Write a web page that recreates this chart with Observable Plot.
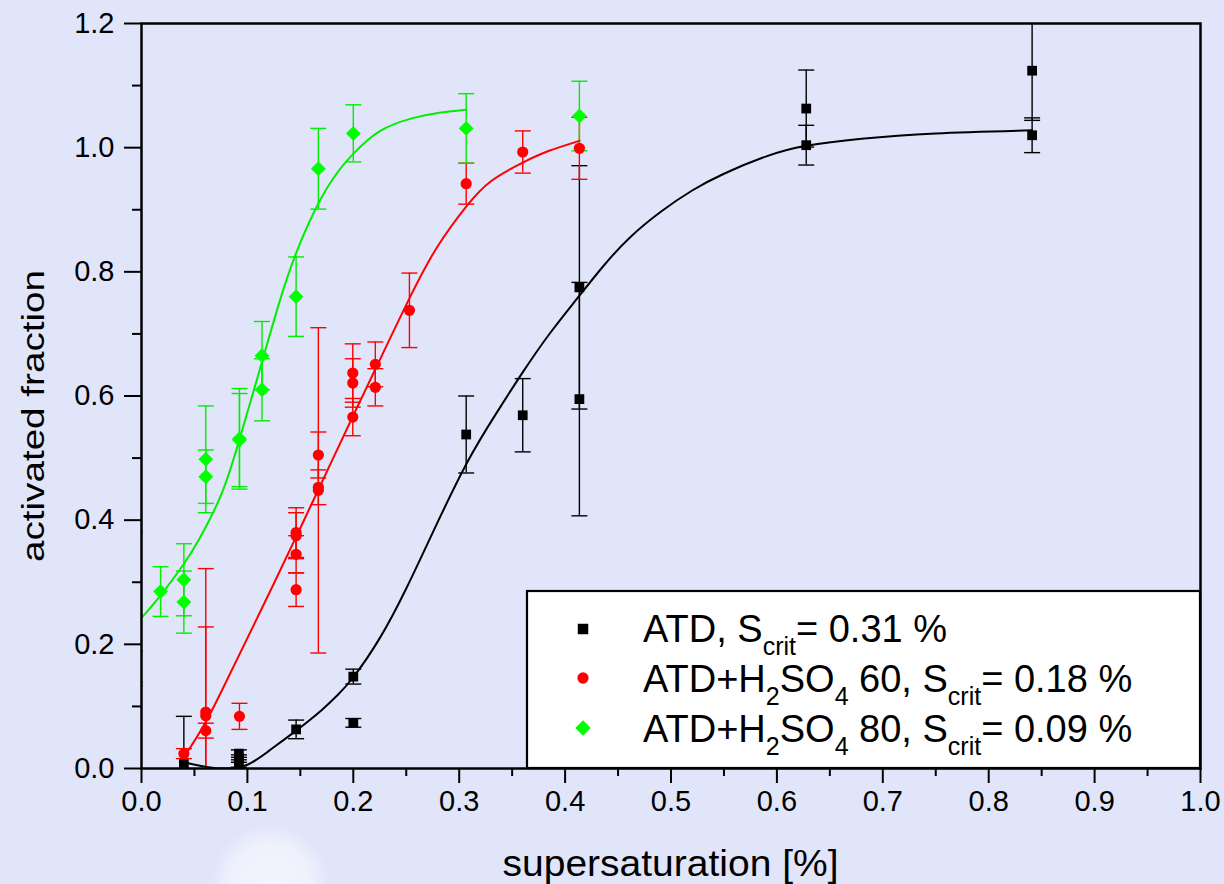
<!DOCTYPE html>
<html>
<head>
<meta charset="utf-8">
<script src="https://cdn.jsdelivr.net/npm/d3@7"></script>
<script src="https://cdn.jsdelivr.net/npm/@observablehq/plot@0.6"></script>
<style>
  html, body { margin: 0; padding: 0; background: #e1e5fa; }
  #chart {
    position: relative; width: 1224px; height: 884px;
    background:
      radial-gradient(circle at 270px 884px, rgba(255,255,255,0.6) 0, rgba(255,255,255,0.45) 40px, rgba(255,255,255,0) 60px),
      #e1e5fa;
    font-family: "Liberation Sans", Arial, sans-serif;
  }
  #chart svg { position: absolute; left: 0; top: 0; }
</style>
</head>
<body>
<div id="chart"></div>
<script>
// ---- measured activated fractions (value, ± error) ----
// ATD
const atdX   = [0.04, 0.092, 0.092, 0.092, 0.146, 0.2, 0.2, 0.3066, 0.36, 0.4135, 0.4135, 0.6277, 0.6277, 0.841, 0.841];
const atdY   = [0.007, 0.024, 0.016, 0.008, 0.063, 0.148, 0.0735, 0.538, 0.569, 0.775, 0.595, 1.063, 1.004, 1.124, 1.02];
const atdErr = [0.077, 0.006, 0.006, 0.006, 0.015, 0.012, 0.007, 0.062, 0.059, 0.196, 0.188, 0.062, 0.032, 0.08, 0.028];

// ATD + H2SO4 60
const h60X   = [0.04, 0.0607, 0.0607, 0.0607, 0.0925, 0.146, 0.146, 0.146, 0.146, 0.167, 0.167, 0.167, 0.1995, 0.1995, 0.1995, 0.2208, 0.2208, 0.253, 0.3066, 0.36, 0.4135];
const h60Y   = [0.024, 0.091, 0.085, 0.061, 0.084, 0.38, 0.375, 0.345, 0.288, 0.505, 0.453, 0.448, 0.637, 0.621, 0.566, 0.651, 0.614, 0.738, 0.942, 0.993, 0.999];
const h60Err = [0.008, 0.231, 0.143, 0.012, 0.021, 0.04, 0.037, 0.03, 0.027, 0.037, 0.028, 0.262, 0.047, 0.039, 0.03, 0.036, 0.03, 0.06, 0.033, 0.034, 0.05];

// ATD + H2SO4 80
const h80X   = [-0.006, -0.006, 0.018, 0.04, 0.04, 0.0607, 0.0607, 0.0925, 0.0925, 0.1138, 0.1138, 0.146, 0.167, 0.2, 0.3066, 0.4135];
const h80Y   = [0.26, 0.161, 0.285, 0.304, 0.268, 0.498, 0.47, 0.531, 0.529, 0.665, 0.61, 0.76, 0.966, 1.023, 1.031, 1.051];
const h80Err = [0.122, 0.028, 0.04, 0.058, 0.05, 0.086, 0.043, 0.081, 0.075, 0.055, 0.05, 0.064, 0.065, 0.046, 0.056, 0.056];

// ---- fitted activation curves ----
const atdFitX = [0.04, 0.06, 0.08, 0.1, 0.12, 0.146, 0.17, 0.185, 0.2, 0.225, 0.25, 0.275, 0.3066, 0.335, 0.3607, 0.385, 0.409, 0.435, 0.461, 0.491, 0.52, 0.55, 0.59, 0.6277, 0.68, 0.75, 0.841];
const atdFitY = [0.010, 0.003, 0.0, 0.006, 0.028, 0.061, 0.094, 0.118, 0.147, 0.21, 0.29, 0.38, 0.49, 0.572, 0.64, 0.6995, 0.752, 0.807, 0.855, 0.8975, 0.931, 0.958, 0.986, 1.003, 1.0145, 1.023, 1.028];

const h60FitX = [0.04, 0.0607, 0.08, 0.1, 0.125, 0.146, 0.167, 0.1995, 0.2208, 0.2538, 0.28, 0.3066, 0.33, 0.36, 0.385, 0.4135];
const h60FitY = [0.018, 0.075, 0.14, 0.21, 0.298, 0.373, 0.449, 0.567, 0.643, 0.76, 0.842, 0.905, 0.946, 0.976, 0.995, 1.011];

const h80FitX = [0, 0.018, 0.039, 0.054, 0.075, 0.0925, 0.1138, 0.13, 0.146, 0.167, 0.185, 0.2, 0.2255, 0.257, 0.28, 0.3066];
const h80FitY = [0.2425, 0.279, 0.327, 0.368, 0.44, 0.53, 0.655, 0.75, 0.83, 0.91, 0.96, 0.99, 1.027, 1.048, 1.056, 1.061];

// ---- axes ----
const xTicks = [0, 0.1, 0.2, 0.3, 0.4, 0.5, 0.6, 0.7, 0.8, 0.9, 1.0];
const xMinorTicks = [0.05, 0.15, 0.25, 0.35, 0.45, 0.55, 0.65, 0.75, 0.85, 0.95];
const yTicks = [0, 0.2, 0.4, 0.6, 0.8, 1.0, 1.2];
const yMinorTicks = [0.1, 0.3, 0.5, 0.7, 0.9, 1.1];

// ---- legend text (text, is-subscript) ----
const legendRows = [
  [["ATD, S", 0], ["crit", 1], ["= 0.31 %", 0]],
  [["ATD+H", 0], ["2", 1], ["SO", 0], ["4", 1], [" 60, S", 0], ["crit", 1], ["= 0.18 %", 0]],
  [["ATD+H", 0], ["2", 1], ["SO", 0], ["4", 1], [" 80, S", 0], ["crit", 1], ["= 0.09 %", 0]]
];

const series = [
  {x: atdX, y: atdY, e: atdErr, fx: atdFitX, fy: atdFitY, color: "#000000", line: "#000000", symbol: "square", r: 5.5},
  {x: h60X, y: h60Y, e: h60Err, fx: h60FitX, fy: h60FitY, color: "#ff0000", line: "#ff0000", symbol: "circle", r: 5.6},
  {x: h80X, y: h80Y, e: h80Err, fx: h80FitX, fy: h80FitY, color: "#00ff00", line: "#00ee00", symbol: "diamond2", r: 6.7}
];

// short horizontal stroke used as error-bar cap
const cap = {draw(ctx) { ctx.moveTo(-8, 0); ctx.lineTo(8, 0); }};

const errMarks = [], fitMarks = [], dotMarks = [];
for (const s of series) {
  const rows = s.x.map((x, i) => ({x, y: s.y[i], e: s.e[i]}));
  const fit = s.fx.map((x, i) => ({x, y: s.fy[i]}));
  errMarks.push(
    Plot.ruleX(rows, {x: "x", y1: d => d.y - d.e, y2: d => d.y + d.e, stroke: s.line, strokeWidth: 1.4, clip: true}),
    Plot.dot(rows, {x: "x", y: d => d.y + d.e, symbol: cap, r: 3, fill: "none", stroke: s.line, strokeWidth: 1.4, clip: true}),
    Plot.dot(rows, {x: "x", y: d => d.y - d.e, symbol: cap, r: 3, fill: "none", stroke: s.line, strokeWidth: 1.4, clip: true})
  );
  fitMarks.push(Plot.line(fit, {x: "x", y: "y", stroke: s.line, strokeWidth: 2, curve: "natural", clip: true}));
  dotMarks.push(Plot.dot(rows, {x: "x", y: "y", symbol: s.symbol, r: s.r, fill: s.color, stroke: "none", clip: true}));
}

const fmt = d3.format(".1f");

const svg = Plot.plot({
  width: 1224,
  height: 884,
  marginLeft: 141,
  marginRight: 24,
  marginTop: 23,
  marginBottom: 116,
  style: {background: "transparent", fontFamily: "'Liberation Sans', Arial, sans-serif", fontSize: "29px", color: "#000"},
  x: {domain: [0, 1]},
  y: {domain: [0, 1.2]},
  marks: [
    ...errMarks,
    ...fitMarks,
    ...dotMarks,
    Plot.axisX({ticks: xTicks, tickSize: 15, tickPadding: 7, tickFormat: fmt, strokeWidth: 2, label: null}),
    Plot.axisX({ticks: xMinorTicks, tickSize: 8, tickFormat: () => "", strokeWidth: 2, label: null}),
    Plot.axisY({ticks: yTicks, tickSize: 17, tickPadding: 10, tickFormat: fmt, strokeWidth: 2, label: null}),
    Plot.axisY({ticks: yMinorTicks, tickSize: 9, tickFormat: () => "", strokeWidth: 2, label: null}),
    Plot.frame({stroke: "#000", strokeWidth: 2.5})
  ]
});

document.getElementById("chart").appendChild(svg);

const root = d3.select(svg);

// axis titles
root.append("text")
  .attr("x", 670.5).attr("y", 876)
  .attr("text-anchor", "middle")
  .attr("font-size", 36)
  .attr("textLength", 336).attr("lengthAdjust", "spacingAndGlyphs")
  .attr("fill", "#000")
  .text("supersaturation [%]");

root.append("text")
  .attr("transform", "translate(44,416) rotate(-90)")
  .attr("text-anchor", "middle")
  .attr("font-size", 32)
  .attr("textLength", 292).attr("lengthAdjust", "spacingAndGlyphs")
  .attr("fill", "#000")
  .text("activated fraction");

// legend box inside the frame, lower right
const lg = root.append("g").attr("text-anchor", "start");
lg.append("rect")
  .attr("x", 527).attr("y", 591).attr("width", 1200 - 527).attr("height", 768 - 591)
  .attr("fill", "#fff").attr("stroke", "#000").attr("stroke-width", 2.2);

const legendSymbols = [
  {type: d3.symbolSquare, size: 110},
  {type: d3.symbolCircle, size: 100},
  {type: d3.symbolDiamond2, size: 150}
];
const rowMarkerY = [629, 678, 728];
const rowBaseY = [642, 692, 742];

legendRows.forEach((parts, i) => {
  lg.append("path")
    .attr("transform", `translate(583,${rowMarkerY[i]})`)
    .attr("d", d3.symbol(legendSymbols[i].type, legendSymbols[i].size)())
    .attr("fill", series[i].color);
  const t = lg.append("text")
    .attr("x", 643).attr("y", rowBaseY[i])
    .attr("text-anchor", "start")
    .attr("font-size", 38).attr("fill", "#000")
    .style("white-space", "pre");
  let sub = 0;
  for (const [str, isSub] of parts) {
    const dy = isSub && !sub ? 13 : (!isSub && sub ? -13 : 0);
    t.append("tspan")
      .attr("dy", dy)
      .attr("font-size", isSub ? 25 : 38)
      .text(str);
    sub = isSub;
  }
});
</script>
</body>
</html>
